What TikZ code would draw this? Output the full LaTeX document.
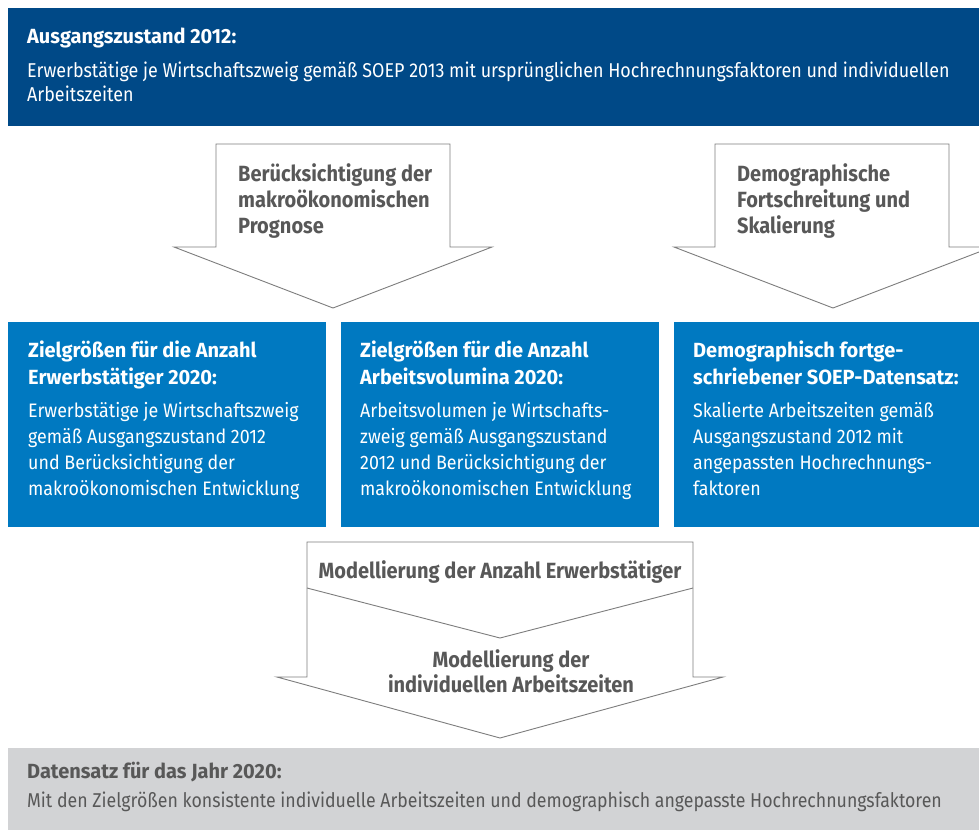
\documentclass[tikz,border=0pt]{standalone}
\usepackage{fontspec}
\setmainfont{Fira Sans}
\newfontfamily\bodyf[FakeStretch=0.895]{Fira Sans}
\newfontfamily\botbodyf[FakeStretch=0.886]{Fira Sans}
\newfontfamily\boxbodyf[FakeStretch=0.915]{Fira Sans}
\newfontfamily\headf[FakeStretch=0.975]{Fira Sans}
\newfontfamily\arrf[FakeStretch=0.91]{Fira Sans}
\definecolor{darkblue}{RGB}{0,73,135}
\definecolor{midblue}{RGB}{0,121,193}
\definecolor{lightgray}{RGB}{210,211,213}
\definecolor{textgray}{RGB}{88,88,88}
\definecolor{linegray}{RGB}{125,125,125}
\tikzset{
  txt/.style={anchor=base west, inner sep=0pt, align=left},
  ctxt/.style={anchor=base, inner sep=0pt, align=center},
  headtxt/.style={font=\headf\bfseries\fontsize{20.5}{27}\selectfont},
  bodytxt/.style={font=\boxbodyf\fontsize{19.5}{26}\selectfont},
  topbody/.style={font=\bodyf\fontsize{20}{24.6}\selectfont},
  botbody/.style={font=\botbodyf\fontsize{20}{24.6}\selectfont},
  arrtxt/.style={font=\arrf\bfseries\fontsize{22}{26}\selectfont, text=textgray},
  bigarrow/.style={draw=linegray, line width=0.9pt, fill=white, line join=miter},
}
\begin{document}
\begin{tikzpicture}[x=1pt,y=-1pt]
\useasboundingbox (0,0) rectangle (979,830);
\begin{scope}
\clip (0,0) rectangle (979,830);
% top box
\fill[darkblue] (8,8) rectangle (979,126);
\node[txt, headtxt, text=white] (tophead) at (27,43) {Ausgangszustand 2012:};
% multi-line nodes: base anchor = baseline of last line
\node[txt, topbody, text=white] (topbody) at (27,101.6) {Erwerbstätige je Wirtschaftszweig gemäß SOEP 2013 mit ursprünglichen Hochrechnungsfaktoren und individuellen\\Arbeitszeiten};

% arrow 1
\draw[bigarrow] (216,144) -- (450,144) -- (450,247) -- (492,247) -- (333,308) -- (174,247) -- (216,247) -- cycle;
\node[txt, arrtxt] (a1) at (238,233) {Berücksichtigung der\\makroökonomischen\\Prognose};
% arrow 2
\draw[bigarrow] (715,144) -- (949,144) -- (949,247) -- (992,247) -- (833,308) -- (674,247) -- (715,247) -- cycle;
\node[txt, arrtxt] (a2) at (737,233) {Demographische\\Fortschreitung und\\Skalierung};

% blue boxes
\fill[midblue] (8,322) rectangle (326,527);
\fill[midblue] (341,322) rectangle (659,527);
\fill[midblue] (674,322) rectangle (979,527);
\node[txt, headtxt, text=white] (b1h) at (28,384) {Zielgrößen für die Anzahl\\Erwerbstätiger 2020:};
\node[txt, bodytxt, text=white] (b1b) at (28,495) {Erwerbstätige je Wirtschaftszweig\\gemäß Ausgangszustand 2012\\und Berücksichtigung der\\makroökonomischen Entwicklung};
\node[txt, headtxt, text=white] (b2h) at (360,384) {Zielgrößen für die Anzahl\\Arbeitsvolumina 2020:};
\node[txt, bodytxt, text=white] (b2b) at (360,495) {Arbeitsvolumen je Wirtschafts-\\zweig gemäß Ausgangszustand\\2012 und Berücksichtigung der\\makroökonomischen Entwicklung};
\node[txt, headtxt, text=white] (b3h) at (693,384) {Demographisch fortge-\\schriebener SOEP-Datensatz:};
\node[txt, bodytxt, text=white] (b3b) at (693,495) {Skalierte Arbeitszeiten gemäß\\Ausgangszustand 2012 mit\\angepassten Hochrechnungs-\\faktoren};

% bottom arrow
\draw[bigarrow] (307,542) -- (693,542) -- (693,677) -- (723,677) -- (500,738) -- (277,677) -- (307,677) -- cycle;
\draw[draw=linegray, line width=0.9pt] (307,588) -- (500,638) -- (693,588);
\node[ctxt, arrtxt] (m1) at (500,578) {Modellierung der Anzahl Erwerbstätiger};
\node[ctxt, arrtxt, font=\arrf\bfseries\fontsize{22}{25}\selectfont] (m2) at (511,692) {Modellierung der\\individuellen Arbeitszeiten};

% bottom box
\fill[lightgray] (8,748) rectangle (979,830);
\node[txt, headtxt, text=textgray] (bh) at (27,778) {Datensatz für das Jahr 2020:};
\node[txt, botbody, text=textgray] (bb) at (27,807) {Mit den Zielgrößen konsistente individuelle Arbeitszeiten und demographisch angepasste Hochrechnungsfaktoren};
\end{scope}
\end{tikzpicture}
\end{document}
